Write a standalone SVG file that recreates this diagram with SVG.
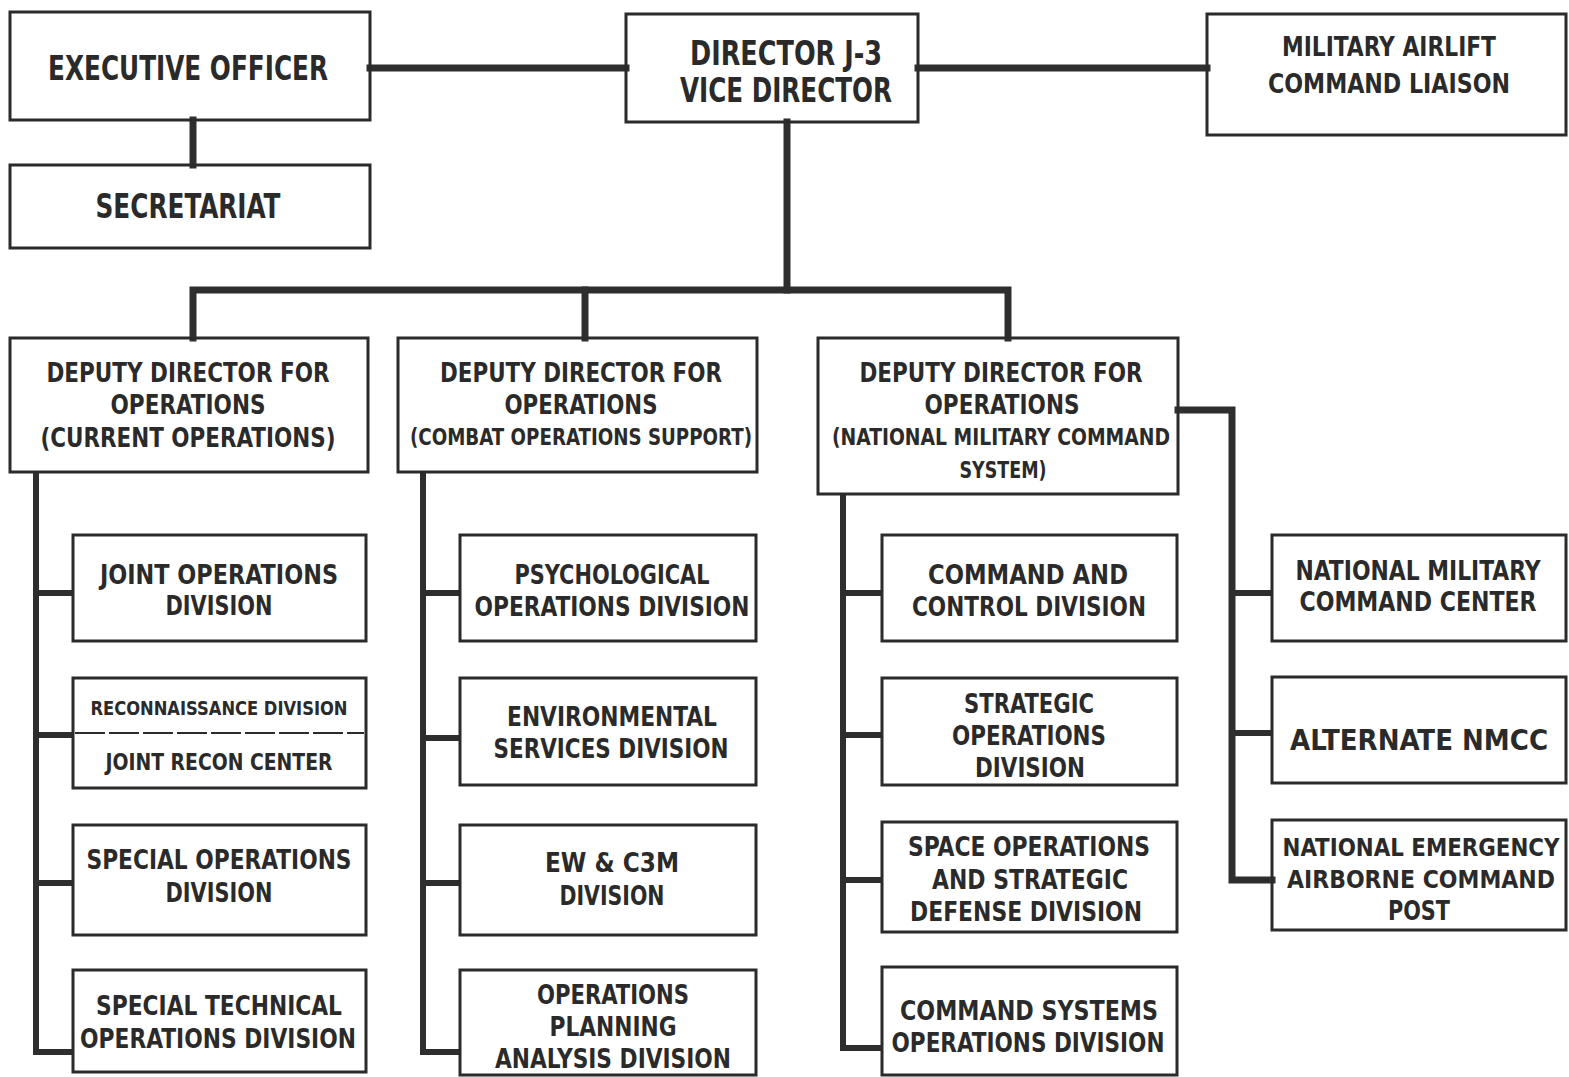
<svg xmlns="http://www.w3.org/2000/svg" width="1569" height="1077" viewBox="0 0 1569 1077">
<style>
.bg{fill:#ffffff}
.box{fill:none;stroke:#2b2b2b;stroke-width:3}
.div{stroke:#2b2b2b;stroke-width:2;stroke-dasharray:30 4}
.c{fill:none;stroke:#2e2e2e;stroke-width:7;stroke-linejoin:miter;stroke-linecap:square}
.cs{fill:none;stroke:#2e2e2e;stroke-width:6;stroke-linecap:butt}
text{font-family:"DejaVu Sans Condensed","Liberation Sans Narrow","Liberation Sans",sans-serif;font-weight:bold;fill:#2a2a2a;text-anchor:middle}
.t{font-size:27px}
.b{font-size:33px}
.s{font-size:23px}
.xs{font-size:20px}
.n{font-size:24px}
.a{font-size:29px}
</style>
<rect class="bg" x="0" y="0" width="1569" height="1077"/>
<g id="connectors">
<path class="c" d="M370 68 H626"/>
<path class="c" d="M918 68 H1207"/>
<path class="c" d="M193 120 V165"/>
<path class="c" d="M787 122 V290"/>
<path class="c" d="M193 338 V290 H1008 V338"/>
<path class="c" d="M585 290 V338"/>
<path class="c" d="M1178 410 H1232 V880 H1272"/>
<path class="cs" d="M36 472 V1052 H73"/>
<path class="cs" d="M423 472 V1052 H460"/>
<path class="cs" d="M843 494 V1048 H882"/>
<path class="cs" d="M36 593 H73 M36 735 H73 M36 883 H73"/>
<path class="cs" d="M423 593 H460 M423 738 H460 M423 883 H460"/>
<path class="cs" d="M843 593 H882 M843 735 H882 M843 880 H882"/>
<path class="cs" d="M1232 593 H1272 M1232 733 H1272"/>
</g>
<g id="executive-officer"><rect class="box" x="10" y="12" width="360" height="108"/><text class="b" x="188" y="80" textLength="280" lengthAdjust="spacingAndGlyphs">EXECUTIVE OFFICER</text></g>
<g id="secretariat"><rect class="box" x="10" y="165" width="360" height="83"/><text class="b" x="188" y="218" textLength="185" lengthAdjust="spacingAndGlyphs">SECRETARIAT</text></g>
<g id="director"><rect class="box" x="626" y="14" width="292" height="108"/><text class="b" x="786" y="65" textLength="192" lengthAdjust="spacingAndGlyphs">DIRECTOR J-3</text><text class="b" x="786" y="102" textLength="212" lengthAdjust="spacingAndGlyphs">VICE DIRECTOR</text></g>
<g id="mac-liaison"><rect class="box" x="1207" y="14" width="359" height="121"/><text class="t" x="1389" y="56" textLength="214" lengthAdjust="spacingAndGlyphs">MILITARY AIRLIFT</text><text class="t" x="1389" y="93" textLength="242" lengthAdjust="spacingAndGlyphs">COMMAND LIAISON</text></g>
<g id="dd-current"><rect class="box" x="10" y="338" width="358" height="134"/><text class="t" x="188" y="382" textLength="283" lengthAdjust="spacingAndGlyphs">DEPUTY DIRECTOR FOR</text><text class="t" x="188" y="414" textLength="155" lengthAdjust="spacingAndGlyphs">OPERATIONS</text><text class="t" x="188" y="447" textLength="295" lengthAdjust="spacingAndGlyphs">(CURRENT OPERATIONS)</text></g>
<g id="dd-combat"><rect class="box" x="398" y="338" width="359" height="134"/><text class="t" x="581" y="382" textLength="282" lengthAdjust="spacingAndGlyphs">DEPUTY DIRECTOR FOR</text><text class="t" x="581" y="414" textLength="153" lengthAdjust="spacingAndGlyphs">OPERATIONS</text><text class="s" x="581" y="445" textLength="342" lengthAdjust="spacingAndGlyphs">(COMBAT OPERATIONS SUPPORT)</text></g>
<g id="dd-nmcs"><rect class="box" x="818" y="338" width="360" height="156"/><text class="t" x="1001" y="382" textLength="283" lengthAdjust="spacingAndGlyphs">DEPUTY DIRECTOR FOR</text><text class="t" x="1002" y="414" textLength="155" lengthAdjust="spacingAndGlyphs">OPERATIONS</text><text class="s" x="1001" y="445" textLength="338" lengthAdjust="spacingAndGlyphs">(NATIONAL MILITARY COMMAND</text><text class="s" x="1003" y="478" textLength="87" lengthAdjust="spacingAndGlyphs">SYSTEM)</text></g>
<g id="joint-ops"><rect class="box" x="73" y="535" width="293" height="106"/><text class="t" x="219" y="584" textLength="238" lengthAdjust="spacingAndGlyphs">JOINT OPERATIONS</text><text class="t" x="219" y="615" textLength="107" lengthAdjust="spacingAndGlyphs">DIVISION</text></g>
<g id="recon"><rect class="box" x="73" y="678" width="293" height="110"/><line class="div" x1="75" y1="733" x2="364" y2="733"/><text class="xs" x="219" y="715" textLength="257" lengthAdjust="spacingAndGlyphs">RECONNAISSANCE DIVISION</text><text class="s" x="219" y="770" textLength="227" lengthAdjust="spacingAndGlyphs">JOINT RECON CENTER</text></g>
<g id="special-ops"><rect class="box" x="73" y="825" width="293" height="110"/><text class="t" x="219" y="869" textLength="265" lengthAdjust="spacingAndGlyphs">SPECIAL OPERATIONS</text><text class="t" x="219" y="902" textLength="107" lengthAdjust="spacingAndGlyphs">DIVISION</text></g>
<g id="special-tech"><rect class="box" x="73" y="970" width="293" height="102"/><text class="t" x="219" y="1015" textLength="246" lengthAdjust="spacingAndGlyphs">SPECIAL TECHNICAL</text><text class="t" x="218" y="1048" textLength="276" lengthAdjust="spacingAndGlyphs">OPERATIONS DIVISION</text></g>
<g id="psyops"><rect class="box" x="460" y="535" width="296" height="106"/><text class="t" x="612" y="584" textLength="195" lengthAdjust="spacingAndGlyphs">PSYCHOLOGICAL</text><text class="t" x="612" y="616" textLength="275" lengthAdjust="spacingAndGlyphs">OPERATIONS DIVISION</text></g>
<g id="environmental"><rect class="box" x="460" y="678" width="296" height="107"/><text class="t" x="612" y="726" textLength="210" lengthAdjust="spacingAndGlyphs">ENVIRONMENTAL</text><text class="t" x="611" y="758" textLength="235" lengthAdjust="spacingAndGlyphs">SERVICES DIVISION</text></g>
<g id="ew-c3m"><rect class="box" x="460" y="825" width="296" height="110"/><text class="t" x="612" y="872" textLength="134" lengthAdjust="spacingAndGlyphs">EW &amp; C3M</text><text class="t" x="612" y="905" textLength="105" lengthAdjust="spacingAndGlyphs">DIVISION</text></g>
<g id="ops-planning"><rect class="box" x="460" y="970" width="296" height="105"/><text class="t" x="613" y="1004" textLength="152" lengthAdjust="spacingAndGlyphs">OPERATIONS</text><text class="t" x="613" y="1036" textLength="127" lengthAdjust="spacingAndGlyphs">PLANNING</text><text class="t" x="613" y="1068" textLength="236" lengthAdjust="spacingAndGlyphs">ANALYSIS DIVISION</text></g>
<g id="command-control"><rect class="box" x="882" y="535" width="295" height="106"/><text class="t" x="1028" y="584" textLength="200" lengthAdjust="spacingAndGlyphs">COMMAND AND</text><text class="t" x="1029" y="616" textLength="234" lengthAdjust="spacingAndGlyphs">CONTROL DIVISION</text></g>
<g id="strategic-ops"><rect class="box" x="882" y="678" width="295" height="107"/><text class="t" x="1029" y="713" textLength="130" lengthAdjust="spacingAndGlyphs">STRATEGIC</text><text class="t" x="1029" y="745" textLength="154" lengthAdjust="spacingAndGlyphs">OPERATIONS</text><text class="t" x="1030" y="777" textLength="110" lengthAdjust="spacingAndGlyphs">DIVISION</text></g>
<g id="space-ops"><rect class="box" x="882" y="822" width="295" height="110"/><text class="t" x="1029" y="856" textLength="242" lengthAdjust="spacingAndGlyphs">SPACE OPERATIONS</text><text class="t" x="1030" y="889" textLength="196" lengthAdjust="spacingAndGlyphs">AND STRATEGIC</text><text class="t" x="1026" y="921" textLength="232" lengthAdjust="spacingAndGlyphs">DEFENSE DIVISION</text></g>
<g id="command-systems"><rect class="box" x="882" y="967" width="295" height="108"/><text class="t" x="1029" y="1020" textLength="258" lengthAdjust="spacingAndGlyphs">COMMAND SYSTEMS</text><text class="t" x="1028" y="1052" textLength="273" lengthAdjust="spacingAndGlyphs">OPERATIONS DIVISION</text></g>
<g id="nmcc"><rect class="box" x="1272" y="535" width="294" height="106"/><text class="t" x="1418" y="580" textLength="245" lengthAdjust="spacingAndGlyphs">NATIONAL MILITARY</text><text class="t" x="1418" y="611" textLength="237" lengthAdjust="spacingAndGlyphs">COMMAND CENTER</text></g>
<g id="alternate-nmcc"><rect class="box" x="1272" y="677" width="294" height="106"/><text class="a" x="1419" y="750" textLength="258" lengthAdjust="spacingAndGlyphs">ALTERNATE NMCC</text></g>
<g id="neacp"><rect class="box" x="1272" y="820" width="294" height="110"/><text class="n" x="1421" y="856" textLength="277" lengthAdjust="spacingAndGlyphs">NATIONAL EMERGENCY</text><text class="n" x="1421" y="888" textLength="268" lengthAdjust="spacingAndGlyphs">AIRBORNE COMMAND</text><text class="t" x="1419" y="920" textLength="62" lengthAdjust="spacingAndGlyphs">POST</text></g>
</svg>
